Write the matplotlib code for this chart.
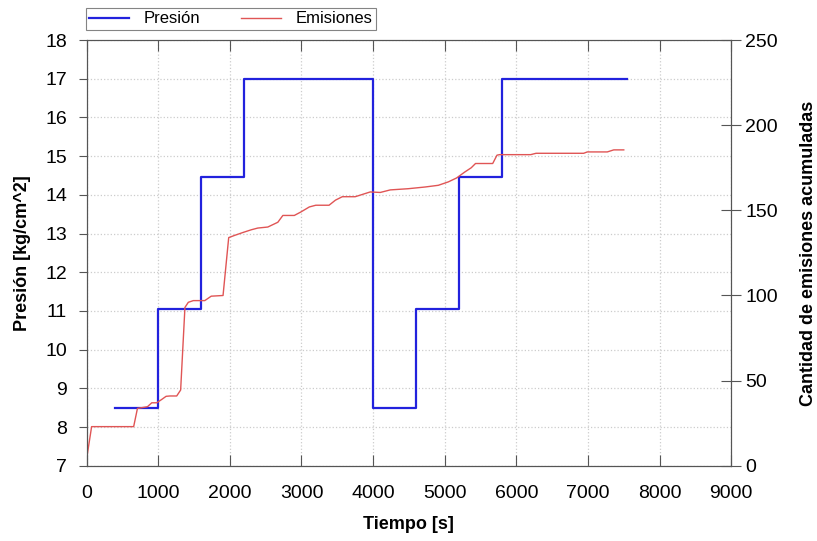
import numpy as np
import matplotlib.pyplot as plt

plt.rcParams["font.family"] = ["Liberation Sans", "DejaVu Sans"]

# Presion (escalones)
t_pres = [400, 1000, 1000, 1600, 1600, 2200, 2200, 4000, 4000, 4600, 4600, 5200, 5200, 5800, 5800, 7550]
presion = [8.5, 8.5, 11.05, 11.05, 14.45, 14.45, 17, 17, 8.5, 8.5, 11.05, 11.05, 14.45, 14.45, 17, 17]

# Emisiones acumuladas
t_emi = [0, 70, 657, 710, 850, 910, 980, 1050, 1110, 1165, 1258, 1313, 1373, 1420, 1490,
         1650, 1740, 1905, 1984, 2067, 2183, 2300, 2390, 2530, 2670, 2740, 2900, 2990,
         3110, 3200, 3385, 3475, 3570, 3750, 3960, 4100, 4240, 4490, 4725, 4910, 5050,
         5165, 5280, 5370, 5430, 5670, 5730, 5765, 6200, 6275, 6940, 6990, 7270, 7360, 7500]
emisiones = [4, 23, 23, 33.7, 34.7, 37, 37, 39, 40.8, 41, 41, 44.5, 93, 96, 97,
             97, 99.6, 100, 134, 135.3, 137, 138.6, 139.6, 140.2, 143, 147, 147, 149,
             152, 153, 153, 156, 158, 158, 160.8, 160.5, 162, 162.7, 163.7, 164.7, 166.7,
             169, 172.5, 175, 177.5, 177.5, 182.4, 182.7, 182.7, 183.5, 183.5, 184.3, 184.3, 185.5, 185.5]

fig = plt.figure(figsize=(8.17, 5.41), dpi=100)
ax = fig.add_axes([0.106, 0.139, 0.789, 0.787])
ax2 = ax.twinx()

l1, = ax.plot(t_pres, presion, color="#2222dd", lw=1.6, label="Presión")
l2, = ax2.plot(t_emi, emisiones, color="#e05555", lw=1.0, label="Emisiones")

ax.set_xlim(0, 9000)
ax.set_ylim(7, 18)
ax2.set_ylim(0, 250)
ax.set_xticks(np.arange(0, 9001, 1000))
ax.set_yticks(np.arange(7, 19, 1))
ax2.set_yticks(np.arange(0, 251, 50))

ax.grid(True, color="#cccccc", linestyle=":", linewidth=0.9)
ax.tick_params(axis="y", direction="out", labelsize=14, length=6, pad=8, color="#555555")
ax.tick_params(axis="x", direction="in", labelsize=14, length=8, pad=14, top=True, color="#555555")
ax2.tick_params(axis="y", direction="inout", labelsize=14, length=14, pad=3, color="#555555")
for a in (ax, ax2):
    for s in a.spines.values():
        s.set_color("#555555")
        s.set_linewidth(0.8)

ax.set_xlabel("Tiempo [s]", fontsize=13, fontweight="bold", labelpad=10)
ax.set_ylabel("Presión [kg/cm^2]", fontsize=13, fontweight="bold", labelpad=10)
ax2.set_ylabel("Cantidad de emisiones acumuladas", fontsize=13, fontweight="bold", labelpad=16)

leg = fig.legend(handles=[l1, l2], loc="lower left", bbox_to_anchor=(0.105, 0.945),
                 ncol=2, fontsize=12, frameon=True, fancybox=False,
                 borderpad=0.2, handlelength=2.4, handletextpad=0.9,
                 columnspacing=2.4, borderaxespad=0)
leg.get_frame().set_edgecolor("#666666")
leg.get_frame().set_linewidth(0.8)

fig.savefig("out.png", dpi=100)
